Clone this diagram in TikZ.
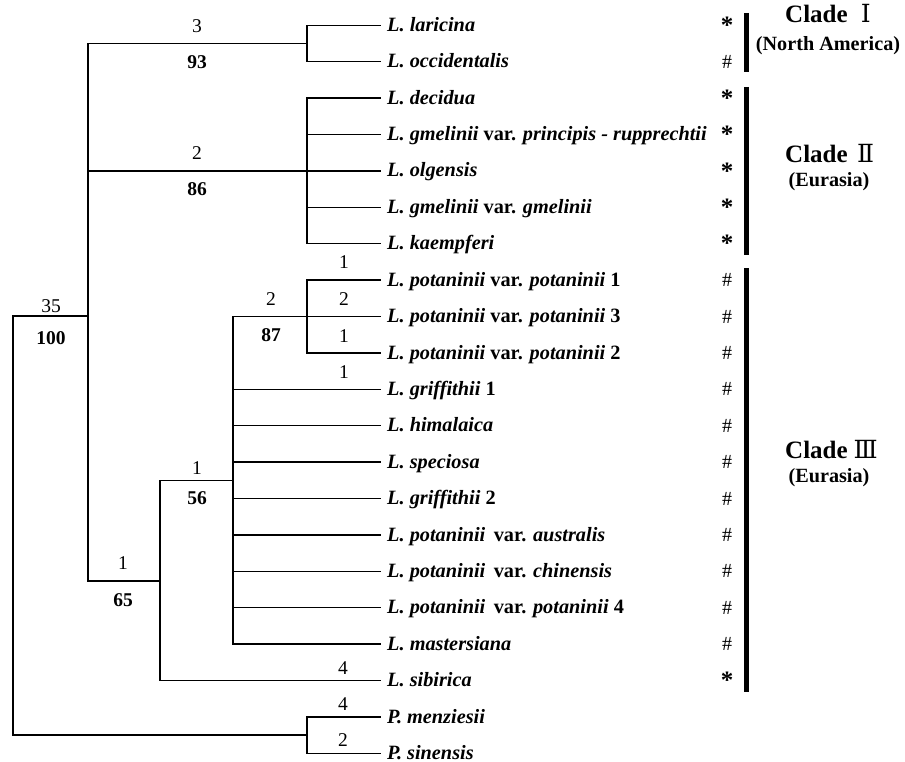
\documentclass[tikz,border=0pt]{standalone}
\usepackage{fontspec}
\setmainfont{Liberation Serif}
\newfontfamily\numfont{DejaVu Serif}
\newcommand\spn[1]{\textit{#1}}
\newcommand\cladenum[1]{\hspace{5pt}\makebox[26pt][c]{\fontsize{25}{28}\numfont\mdseries #1}}
\newcommand\astk{{\fontsize{25}{28}\selectfont\raisebox{-3.4pt}{*}}}
\begin{document}
\begin{tikzpicture}[x=1pt,y=-1pt,
  edge/.style={line width=1.3pt, line cap=rect},
  tip/.style={anchor=west, inner xsep=7pt, inner ysep=0pt, text height=12.2pt, text depth=0pt,
    font=\fontsize{20.3}{24}\selectfont\bfseries},
  lab/.style={inner sep=0pt, font=\fontsize{19.5}{22}\selectfont},
  blab/.style={inner sep=0pt, font=\fontsize{19.5}{22}\selectfont\bfseries},
  mrk/.style={inner sep=0pt, font=\fontsize{20}{22}\selectfont\bfseries},
  bar/.style={line width=5pt},
  cladet/.style={inner sep=0pt, anchor=west, font=\fontsize{25}{28}\selectfont\bfseries},
  clades/.style={inner sep=0pt, font=\fontsize{20.2}{24}\selectfont\bfseries}]
\path[use as bounding box] (0,0) rectangle (905,762);
% tips
\node[tip] (t1)  at (380,25.3)   {\spn{L. laricina}};
\node[tip] (t2)  at (380,61.7)   {\spn{L. occidentalis}};
\node[tip] (t3)  at (380,98.1)   {\spn{L. decidua}};
\node[tip] (t4)  at (380,134.5)  {\spn{L. gmelinii} var. \spn{principis - rupprechtii}};
\node[tip] (t5)  at (380,170.9)  {\spn{L. olgensis}};
\node[tip] (t6)  at (380,207.3)  {\spn{L. gmelinii} var. \spn{gmelinii}};
\node[tip] (t7)  at (380,243.7)  {\spn{L. kaempferi}};
\node[tip] (t8)  at (380,280.1)  {\spn{L. potaninii} var. \spn{potaninii} 1};
\node[tip] (t9)  at (380,316.5)  {\spn{L. potaninii} var. \spn{potaninii} 3};
\node[tip] (t10) at (380,352.9)  {\spn{L. potaninii} var. \spn{potaninii} 2};
\node[tip] (t11) at (380,389.3)  {\spn{L. griffithii} 1};
\node[tip] (t12) at (380,425.7)  {\spn{L. himalaica}};
\node[tip] (t13) at (380,462.1)  {\spn{L. speciosa}};
\node[tip] (t14) at (380,498.5)  {\spn{L. griffithii} 2};
\node[tip] (t15) at (380,534.9)  {\spn{L. potaninii}\, var. \spn{australis}};
\node[tip] (t16) at (380,571.3)  {\spn{L. potaninii}\, var. \spn{chinensis}};
\node[tip] (t17) at (380,607.7)  {\spn{L. potaninii}\, var. \spn{potaninii} 4};
\node[tip] (t18) at (380,644.1)  {\spn{L. mastersiana}};
\node[tip] (t19) at (380,680.5)  {\spn{L. sibirica}};
\node[tip] (t20) at (380,716.9)  {\spn{P. menziesii}};
\node[tip] (t21) at (380,753.3)  {\spn{P. sinensis}};
% internal nodes
\coordinate (root) at (13,526);
\coordinate (nA)   at (88,316);
\coordinate (nI)   at (307,43.5);
\coordinate (nII)  at (307,170.9);
\coordinate (n65)  at (160,580.9);
\coordinate (n56)  at (233,480.3);
\coordinate (n87)  at (307,316.5);
\coordinate (nP)   at (307,735.1);
% vertical lines
\draw[edge] (root |- nA) -- (root |- nP);
\draw[edge] (nA |- nI) -- (nA |- n65);
\draw[edge] (nI |- t1.west) -- (nI |- t2.west);
\draw[edge] (nII |- t3.west) -- (nII |- t7.west);
\draw[edge] (n65 |- n56) -- (n65 |- t19.west);
\draw[edge] (n56 |- n87) -- (n56 |- t18.west);
\draw[edge] (n87 |- t8.west) -- (n87 |- t10.west);
\draw[edge] (nP |- t20.west) -- (nP |- t21.west);
% horizontal lines
\foreach \p/\c in {root/nA, root/nP, nA/nI, nA/nII, nA/n65, n65/n56, n56/n87,
   nI/t1.west, nI/t2.west, nII/t3.west, nII/t4.west, nII/t5.west, nII/t6.west, nII/t7.west,
   n87/t8.west, n87/t9.west, n87/t10.west,
   n56/t11.west, n56/t12.west, n56/t13.west, n56/t14.west, n56/t15.west, n56/t16.west,
   n56/t17.west, n56/t18.west, n65/t19.west, nP/t20.west, nP/t21.west}
  \draw[edge] (\p |- \c) -- (\c);
% branch labels
\node[lab]  (b3)   at (197,26)  {3};
\node[blab] (b93)  at (197,62)  {93};
\node[lab]  (b2a)  at (197,153) {2};
\node[blab] (b86)  at (197,189) {86};
\node[lab]  (b35)  at (51,306)  {35};
\node[blab] (b100) at (51,338)  {100};
\node[lab]  (b2b)  at (271,299) {2};
\node[blab] (b87)  at (271,335) {87};
\node[lab]  (b1a)  at (344,262) {1};
\node[lab]  (b2c)  at (344,299) {2};
\node[lab]  (b1b)  at (344,336) {1};
\node[lab]  (b1c)  at (344,372) {1};
\node[lab]  (b1d)  at (197,468) {1};
\node[blab] (b56)  at (197,498) {56};
\node[lab]  (b1e)  at (123,563) {1};
\node[blab] (b65)  at (123,600) {65};
\node[lab]  (b4a)  at (343,668) {4};
\node[lab]  (b4b)  at (343,704) {4};
\node[lab]  (b2d)  at (343,740) {2};
% markers
\coordinate (mx) at (727,0);
\foreach \i/\m in {1/\astk,2/\mdseries\#,3/\astk,4/\astk,5/\astk,6/\astk,7/\astk,
  8/\mdseries\#,9/\mdseries\#,10/\mdseries\#,11/\mdseries\#,12/\mdseries\#,13/\mdseries\#,
  14/\mdseries\#,15/\mdseries\#,16/\mdseries\#,17/\mdseries\#,18/\mdseries\#,19/\astk}
  \node[mrk] (m\i) at (mx |- t\i.west) {\m};
% bars
\coordinate (bIa) at (746.5,13);  \coordinate (bIb) at (746.5,72);
\coordinate (bIIa) at (746.5,87); \coordinate (bIIb) at (746.5,255);
\coordinate (bIIIa) at (746.5,268); \coordinate (bIIIb) at (746.5,692);
\draw[bar] (bIa) -- (bIb);
\draw[bar] (bIIa) -- (bIIb);
\draw[bar] (bIIIa) -- (bIIIb);
% clade labels
\node[cladet] (c1)  at (785,14)  {Clade\cladenum{Ⅰ}};
\node[clades] (c1s) at (828,46)  {(North America)};
\node[cladet] (c2)  at (785,154) {Clade\cladenum{Ⅱ}};
\node[clades] (c2s) at (829,182) {(Eurasia)};
\node[cladet] (c3)  at (785,450) {Clade\cladenum{Ⅲ}};
\node[clades] (c3s) at (829,478) {(Eurasia)};
\end{tikzpicture}
\end{document}
